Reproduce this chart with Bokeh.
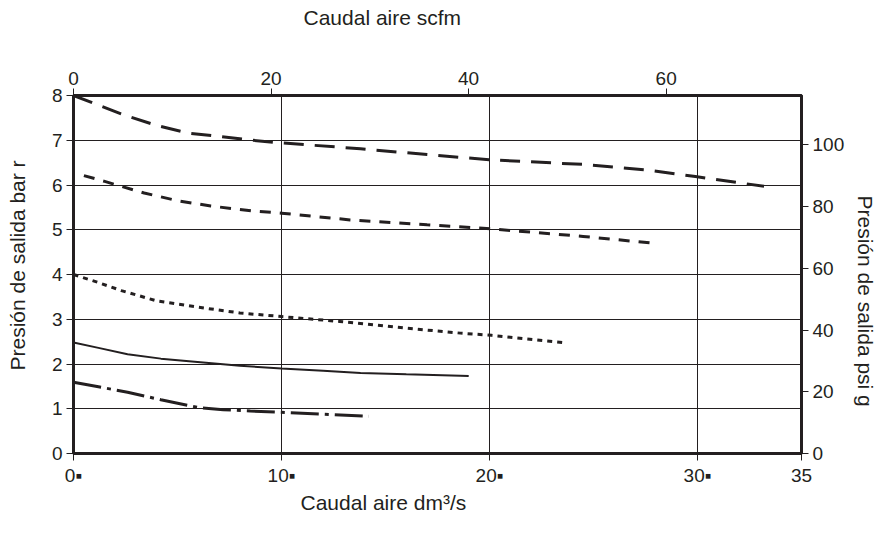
from bokeh.plotting import figure
from bokeh.models import Range1d, LinearAxis, FixedTicker, Title
from bokeh.embed import file_html
from bokeh.resources import INLINE

# ---- data (dm3/s vs bar) ----
x_ticks = [0, 10, 20, 30, 35]
x_tick_labels = {0: "0\u25aa", 10: "10\u25aa", 20: "20\u25aa", 30: "30\u25aa", 35: "35"}
y_ticks = [0, 1, 2, 3, 4, 5, 6, 7, 8]
scfm_ticks = [0, 20, 40, 60]
psi_ticks = [0, 20, 40, 60, 80, 100]

x_a = [0, 1.0, 2.4, 4.0, 5.5, 7.1, 8.6, 10, 13.8, 17, 20.1, 24.5, 27.5, 29.9, 33.2]
y_a = [8.0, 7.82, 7.57, 7.33, 7.16, 7.08, 7.0, 6.94, 6.81, 6.68, 6.56, 6.46, 6.34, 6.19, 5.97]

x_b = [0.5, 1.5, 3.4, 5.0, 6.6, 8.6, 10, 13.3, 17, 20.1, 24.5, 28.1]
y_b = [6.21, 6.08, 5.82, 5.65, 5.53, 5.42, 5.37, 5.22, 5.11, 5.02, 4.85, 4.69]

x_c = [0, 1.2, 2.3, 4.0, 6.3, 8.0, 10, 12.8, 16, 18.6, 20.1, 23.7]
y_c = [4.0, 3.82, 3.64, 3.41, 3.25, 3.14, 3.06, 2.95, 2.8, 2.69, 2.64, 2.47]

x_d = [0, 1.2, 2.6, 4.2, 6.1, 8.0, 10, 12.0, 13.8, 16.0, 18.6, 19.0]
y_d = [2.48, 2.36, 2.22, 2.12, 2.04, 1.96, 1.9, 1.85, 1.8, 1.77, 1.74, 1.73]

x_e = [0, 1.2, 2.6, 4.2, 6.1, 7.2, 8.5, 10, 12.0, 14.2]
y_e = [1.59, 1.49, 1.37, 1.2, 1.02, 0.98, 0.95, 0.92, 0.88, 0.83]

INK = "#231f20"
FONT = "Liberation Sans"
FS = "19px"
TFS = "21px"

p = figure(width=878, height=517, output_backend="svg", toolbar_location=None,
           x_range=Range1d(0, 35), y_range=Range1d(0, 8),
           min_border_left=73, min_border_right=77, min_border_top=95,
           min_border_bottom=64, background_fill_color="white",
           border_fill_color="white")
p.title.visible = False
p.outline_line_color = INK
p.outline_line_width = 3
p.outline_line_alpha = 1

bottom_ax = p.below[0]
left_ax = p.left[0]
bottom_ax.ticker = FixedTicker(ticks=x_ticks)
bottom_ax.major_label_overrides = x_tick_labels
left_ax.ticker = FixedTicker(ticks=y_ticks)

p.extra_x_ranges = {"scfm": Range1d(0, 73.7)}
p.extra_y_ranges = {"psi": Range1d(0, 116)}

top_ax = LinearAxis(x_range_name="scfm", ticker=FixedTicker(ticks=scfm_ticks))
p.add_layout(top_ax, "above")
right_ax = LinearAxis(y_range_name="psi", ticker=FixedTicker(ticks=psi_ticks))
p.add_layout(right_ax, "right")

for ax in (bottom_ax, left_ax, top_ax, right_ax):
    ax.axis_line_color = INK
    ax.axis_line_width = 3
    ax.major_tick_line_color = INK
    ax.major_tick_line_width = 1
    ax.major_tick_in = 0
    ax.major_tick_out = 7
    ax.minor_tick_line_color = None
    ax.major_label_text_font = FONT
    ax.major_label_text_font_size = FS
    ax.major_label_text_color = INK
    ax.major_label_standoff = 4

# blank spacers that push the titles outward
for ax, gap in ((top_ax, 35), (left_ax, 15), (right_ax, 1)):
    ax.axis_label = "\u00a0"
    ax.axis_label_text_font_size = "2px"
    ax.axis_label_standoff = gap

p.xgrid.ticker = FixedTicker(ticks=x_ticks)
p.ygrid.ticker = FixedTicker(ticks=y_ticks)
for g in (p.xgrid[0], p.ygrid[0]):
    g.grid_line_color = INK
    g.grid_line_width = 1
    g.grid_line_alpha = 1

# curves
p.line(x_a, y_a, line_color=INK, line_width=3, line_dash="20 11")
p.line(x_b, y_b, line_color=INK, line_width=3, line_dash="11 9")
p.line(x_c, y_c, line_color=INK, line_width=3, line_dash="5 5")
p.line(x_d, y_d, line_color=INK, line_width=2)
p.line(x_e, y_e, line_color=INK, line_width=3, line_dash="28 6 4 6")

def mk_title(text, align, offset):
    return Title(text=text, align=align, offset=offset, standoff=0,
                 text_font=FONT, text_font_size=TFS, text_font_style="normal",
                 text_color=INK)

p.add_layout(mk_title("Caudal aire scfm", "left", 230), "above")
p.add_layout(mk_title("Caudal aire dm\u00b3/s", "left", 227), "below")
p.add_layout(mk_title("Presión de salida bar r", "left", 83), "left")
p.add_layout(mk_title("Presión de salida psi g", "left", 100), "right")

open("out.html", "w").write(file_html(p, INLINE))
